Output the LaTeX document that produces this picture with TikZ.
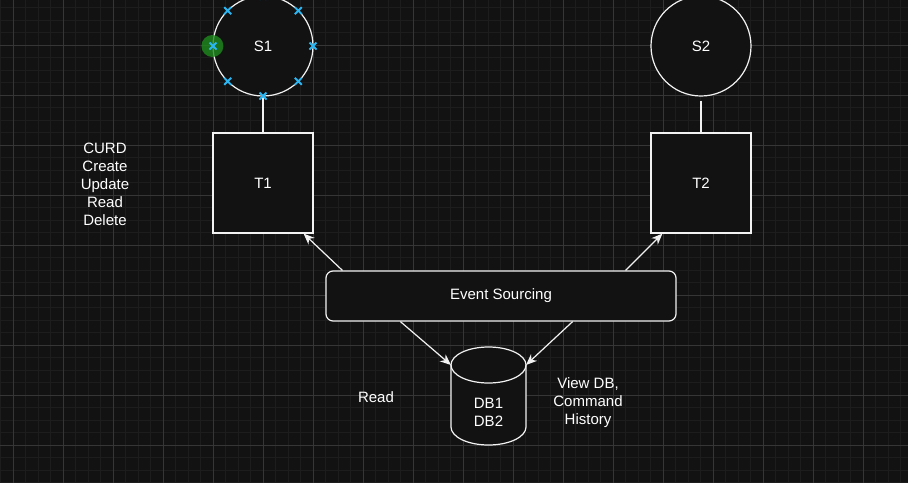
\documentclass[tikz,border=0pt]{standalone}
\usepackage{fontspec}
\setmainfont{Liberation Sans}
\usepackage{xcolor}
\usepackage{tikz}
\usetikzlibrary{arrows.meta,positioning,calc}

\definecolor{canvas}{HTML}{121212}
\definecolor{gridminor}{HTML}{1D1D1D}
\definecolor{gridmajor}{HTML}{363636}
\definecolor{edge}{HTML}{F2F2F2}
\definecolor{handle}{HTML}{29B6F2}
\definecolor{pick}{HTML}{1E8A1E}

\begin{document}
\begin{tikzpicture}[x=1pt, y=-1pt,
  shape line/.style={draw=edge, line width=1.2pt, fill=canvas},
  label text/.style={text=white, font=\fontsize{15}{18}\selectfont, align=center},
  flow/.style={-{Stealth[length=11pt,width=9pt,inset=3.5pt]}, draw=edge, line width=1.2pt},
  plain link/.style={draw=edge, line width=1.2pt}]
\clip (0,0) rectangle (908,483);

% Canvas and grid
\fill[canvas] (0,0) rectangle (908,483);
\foreach \x in {0.5,13,...,908} \draw[gridminor, line width=1pt] (\x,0) -- (\x,483);
\foreach \y in {7.5,20,...,483} \draw[gridminor, line width=1pt] (0,\y) -- (908,\y);
\foreach \x in {13,63,...,908} \draw[gridmajor, line width=1pt] (\x,0) -- (\x,483);
\foreach \y in {45,95,...,483} \draw[gridmajor, line width=1pt] (0,\y) -- (908,\y);

% Services S1 and S2
\node[shape line, label text, circle, minimum size=100pt, inner sep=0pt] (S1) at (263,46) {S1};
\node[shape line, label text, circle, minimum size=100pt, inner sep=0pt] (S2) at (701,46) {S2};

% Tables T1 and T2
\node[shape line, label text, rectangle, minimum size=100pt, inner sep=0pt] (T1) at (263,183) {T1};
\node[shape line, label text, rectangle, minimum size=100pt, inner sep=0pt] (T2) at (701,183) {T2};
\draw[plain link] (S1.south) -- (T1.north);
\draw[plain link] ([yshift=-4pt]S2.south) -- (T2.north);

% Event store
\node[shape line, label text, rectangle, rounded corners=7pt, minimum width=350pt, minimum height=50pt] (ES) at (501,296) {Event Sourcing};

% Database cylinder
\coordinate (dbL) at (451,365);
\coordinate (dbR) at (526,365);
\fill[canvas] (dbL) -- (451,427) arc[start angle=180, end angle=360, x radius=37.5pt, y radius=18pt] -- (dbR) arc[start angle=0, end angle=180, x radius=37.5pt, y radius=18pt] -- cycle;
\draw[plain link] (dbL) -- (451,427) arc[start angle=180, end angle=360, x radius=37.5pt, y radius=18pt] -- (dbR);
\draw[plain link] (488.5,365) ellipse[x radius=37.5pt, y radius=18pt];
\node[label text] (DB) at (488.5,412) {DB1\\DB2};

% Event flows
\draw[flow] ([xshift=17pt]ES.north west) -- ([xshift=-10pt]T1.south east);
\draw[flow] ([xshift=-51pt]ES.north east) -- ([xshift=12pt]T2.south west);
\draw[flow] ([xshift=75pt]ES.south west) -- (dbL);
\draw[flow] ([xshift=-104pt]ES.south east) -- (dbR);

% Side notes
\node[label text] (curd) at (105,184) {CURD\\Create\\Update\\Read\\Delete};
\node[label text] (read) at (376,397) {Read};
\node[label text] (view) at (588,403) {View DB,\\Command\\History};

% Selection handles on S1
\fill[pick, opacity=0.8] (S1.west) circle[radius=11pt];
\foreach \a in {0,45,...,315}
  \draw[handle, line width=1.8pt] ($(S1.center)+(\a:50pt)$) +(-3.5pt,-3.5pt) -- +(3.5pt,3.5pt) +(-3.5pt,3.5pt) -- +(3.5pt,-3.5pt);

\end{tikzpicture}
\end{document}
